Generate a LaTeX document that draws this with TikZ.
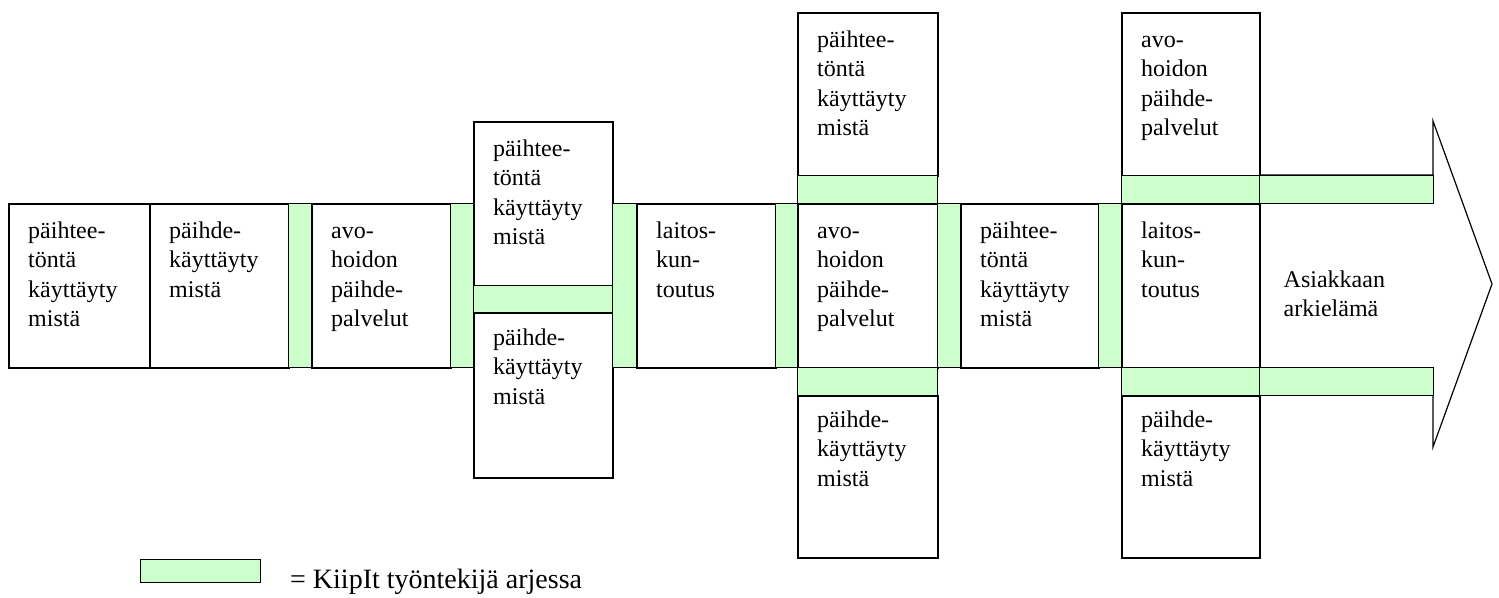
\documentclass[tikz,border=0pt]{standalone}
\usepackage{fontspec}
\setmainfont{Liberation Serif}
\usepackage{xcolor}
\usetikzlibrary{positioning}
\definecolor{kiipgreen}{HTML}{CCFFCC}

\begin{document}
\fontsize{24}{29.5}\selectfont
\begin{tikzpicture}[
    % GLOBAL CFG
    x=1pt, y=-1pt,
    % Styles
    sz/.style 2 args={% box size
        minimum width=#1,
        minimum height=#2,
        },
    stage/.style={% For the white boxes
        rectangle,
        draw,
        line width=1.5pt,
        fill=white,
        anchor=north west,
        inner sep=0pt,
        },
    kiipit/.style={% For the green strips
        rectangle,
        draw,
        line width=1.2pt,
        fill=kiipgreen,
        anchor=north west,
        inner sep=0pt,
        },
    txt/.style={% For the texts in the boxes
        inner sep=0pt,
        text width=118pt,
        align=left,
        font=\fontsize{24}{29.5}\selectfont,
        execute at begin node=\strut,
        },
    ]
\useasboundingbox (0,0) rectangle (1499,597);

    % The big arrow behind the last column
    \coordinate (tip) at (1492,284);
    \draw [line width=1.2pt, fill=white] (1259,175) -- (1433,175) -- (1433,121) -- (tip)
        -- (1433,447) -- (1433,395) -- (1259,395);

    % Boxes of the band named b# and strips g#
    \node [stage, sz={141}{164}] (b1) at (8,203) {};
    \node [stage, sz={139}{164}] (b2) at (149,203) {};
    \node [kiipit, sz={23}{164}] (g1) at (288,203) {};
    \node [stage, sz={139}{164}] (b3) at (311,203) {};
    \node [kiipit, sz={23}{164}] (g2) at (450,203) {};

    % First column named a#
    \node [stage, sz={139}{164}] (a1) at (473,121) {};
    \node [kiipit, sz={139}{27}] (ag) at (473,285) {};
    \node [stage, sz={139}{165}] (a2) at (473,312) {};

    \node [kiipit, sz={24}{164}] (g3) at (612,203) {};
    \node [stage, sz={139}{164}] (b4) at (636,203) {};
    \node [kiipit, sz={23}{164}] (g4) at (775,203) {};

    % Second column named c#
    \node [stage, sz={140}{163}] (c1) at (797,12) {};
    \node [kiipit, sz={140}{28}] (cg1) at (797,175) {};
    \node [stage, sz={140}{164}] (c2) at (797,203) {};
    \node [kiipit, sz={140}{28}] (cg2) at (797,367) {};
    \node [stage, sz={140}{162}] (c3) at (797,395) {};

    \node [kiipit, sz={23}{164}] (g5) at (937,203) {};
    \node [stage, sz={138}{164}] (b5) at (960,203) {};
    \node [kiipit, sz={23}{164}] (g6) at (1098,203) {};

    % Third column named d#
    \node [stage, sz={138}{163}] (d1) at (1121,12) {};
    \node [kiipit, sz={138}{28}] (dg1) at (1121,175) {};
    \node [stage, sz={138}{164}] (d2) at (1121,203) {};
    \node [kiipit, sz={138}{28}] (dg2) at (1121,367) {};
    \node [stage, sz={138}{162}] (d3) at (1121,395) {};

    % Strips along the arrow
    \node [kiipit, sz={174}{28}] (eg1) at (1259,175) {};
    \node [kiipit, sz={174}{28}] (eg2) at (1259,367) {};

    % Texts
    \node [txt, below right=14.4pt and 20pt of b1.north west] (tb1) {päihtee-\\töntä\\käyttäyty\\mistä};
    \node [txt, below right=14.4pt and 20pt of b2.north west] (tb2) {päihde-\\käyttäyty\\mistä};
    \node [txt, below right=14.4pt and 20pt of b3.north west] (tb3) {avo-\\hoidon\\päihde-\\palvelut};
    \node [txt, below right=14.4pt and 20pt of a1.north west] (ta1) {päihtee-\\töntä\\käyttäyty\\mistä};
    \node [txt, below right=12.4pt and 20pt of a2.north west] (ta2) {päihde-\\käyttäyty\\mistä};
    \node [txt, below right=14.4pt and 20pt of b4.north west] (tb4) {laitos-\\kun-\\toutus};
    \node [txt, below right=14.4pt and 20pt of c1.north west] (tc1) {päihtee-\\töntä\\käyttäyty\\mistä};
    \node [txt, below right=14.4pt and 20pt of c2.north west] (tc2) {avo-\\hoidon\\päihde-\\palvelut};
    \node [txt, below right=11.4pt and 20pt of c3.north west] (tc3) {päihde-\\käyttäyty\\mistä};
    \node [txt, below right=14.4pt and 20pt of b5.north west] (tb5) {päihtee-\\töntä\\käyttäyty\\mistä};
    \node [txt, below right=14.4pt and 20pt of d1.north west] (td1) {avo-\\hoidon\\päihde-\\palvelut};
    \node [txt, below right=14.4pt and 20pt of d2.north west] (td2) {laitos-\\kun-\\toutus};
    \node [txt, below right=11.4pt and 20pt of d3.north west] (td3) {päihde-\\käyttäyty\\mistä};
    \node [txt, below right=63.4pt and 23pt of d2.north east] (te) {Asiakkaan\\arkielämä};

    % Legend
    \node [kiipit, sz={120}{23}] (leg) at (140,559) {};
    \node [anchor=base west, inner sep=0pt, font=\fontsize{28}{34}\selectfont] (legtxt) at (290,588) {= KiipIt työntekijä arjessa};

\end{tikzpicture}
\end{document}
